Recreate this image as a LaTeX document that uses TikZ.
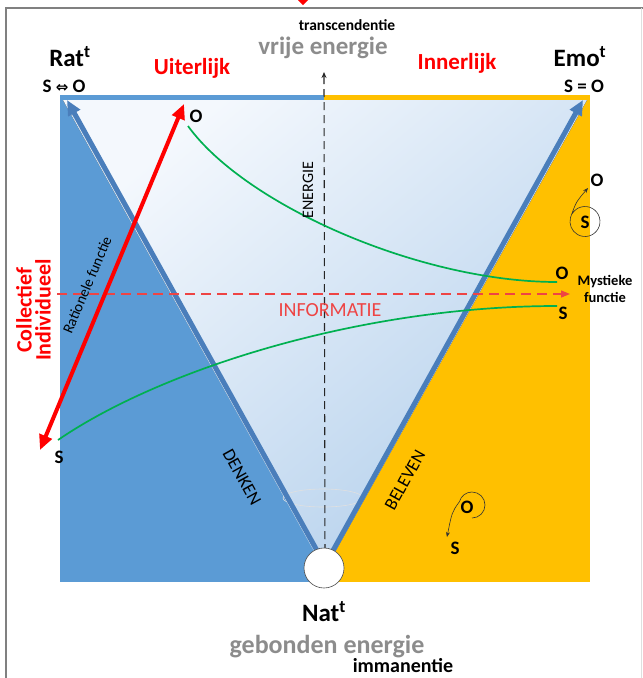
\documentclass[tikz,border=0pt]{standalone}
\usepackage{fontspec}
\setmainfont{Carlito}
\newfontfamily\symfont{DejaVu Sans}
\usetikzlibrary{arrows.meta}
\definecolor{ratblue}{HTML}{5B9BD5}
\definecolor{emoorange}{HTML}{FFC000}
\definecolor{edgeblue}{HTML}{4A7EBB}
\definecolor{lighttop}{HTML}{F4F8FD}
\definecolor{lightbot}{HTML}{B4D0EC}
\definecolor{energygrey}{HTML}{8C8C8C}
\definecolor{curvegreen}{HTML}{00B050}
\definecolor{infored}{HTML}{EE4444}

\begin{document}
\begin{tikzpicture}[x=1pt,y=-1pt,
  txt/.style={inner sep=0pt},
  big/.style={txt,font=\bfseries\fontsize{25}{25}\selectfont},
  grey/.style={txt,font=\bfseries\fontsize{25}{25}\selectfont,text=energygrey},
  redlbl/.style={txt,font=\bfseries\fontsize{23}{23}\selectfont,text=red},
  so/.style={txt,font=\bfseries\fontsize{19}{19}\selectfont},
  small/.style={txt,font=\fontsize{16}{16}\selectfont},
  vedge/.style={line width=5pt,edgeblue,-{Triangle[length=15pt,width=13pt]}},
  green/.style={line width=1.7pt,curvegreen},
  loopline/.style={line width=0.6pt,black!80,-{Stealth[length=5pt,width=4pt]}}]
\useasboundingbox (0,0) rectangle (643,678);

% frame
\draw[gray,line width=1.3pt] (6,678) -- (6,8) -- (643,8);
\draw[gray!25,line width=0.6pt] (641,8) -- (641,678);
\fill[red] (298,0) -- (308,0) -- (303,5) -- cycle;

% fields
\fill[ratblue] (60,95) rectangle (324,582);
\fill[emoorange] (324,95) rectangle (590,582);
\fill[top color=lighttop,bottom color=lightbot,shading angle=40] (63,100) -- (587,100) -- (325,570) -- cycle;
\draw[black!12,line width=0.6pt] (323,498) ellipse (40pt and 9pt);
\draw[white!75!ratblue,line width=0.7pt] (321,563) -- (66,104);

\coordinate (natpt) at (325,565);
\coordinate (ratpt) at (67,100);
\coordinate (emopt) at (583,100);
\coordinate (entop) at (324,72);
\coordinate (infoL) at (57,294);
\coordinate (infoR) at (570,294);

\draw[vedge] (natpt) -- (ratpt);
\draw[vedge] (natpt) -- (emopt);
\draw[black!85,line width=1.1pt,dash pattern=on 8pt off 5pt,-{Stealth[length=6pt,width=5pt]}] (natpt) -- (entop);
\draw[infored,line width=1.2pt,dash pattern=on 10pt off 6pt,-{Triangle[length=9pt,width=7pt]}] (infoL) -- (infoR);

\node[circle,fill=white,draw=black!70,line width=0.6pt,minimum size=40pt,inner sep=0pt] (natc) at (324,568) {};

% rationele functie
\coordinate (ratS) at (40,450);
\coordinate (ratO) at (184,104);
\draw[red,line width=4pt,{Triangle[length=15pt,width=13pt]}-{Triangle[length=15pt,width=13pt]}] (ratS) -- (ratO);

% green curves
\coordinate (gO1) at (188,126);
\coordinate (gO2) at (557,282);
\coordinate (gS1) at (58,440);
\coordinate (gS2) at (557,306);
\draw[green] (gO1) .. controls (245,205) and (420,282) .. (gO2);
\draw[green] (gS1) .. controls (160,370) and (360,306) .. (gS2);

% loops
\draw[loopline] (572,214) arc[start angle=150,end angle=-195,radius=15pt] .. controls (576,202) .. (588,188);
\draw[loopline] (472,518) arc[start angle=-90,end angle=165,radius=13pt] .. controls (452,512) .. (447,537);

% labels
\node[txt,font=\bfseries\fontsize{15.5}{15.5}\selectfont] (trans) at (347,25) {transcendentie};
\node[grey] (vrije) at (323,48) {vrije energie};
\node[big] (rat) at (70,57) {Rat\textsuperscript{t}};
\node[big] (emo) at (580,57) {Emo\textsuperscript{t}};
\node[redlbl] (uit) at (192,68) {Uiterlijk};
\node[redlbl] (inn) at (457,63) {Innerlijk};
\node[so] (soL) at (64,86) {S {\symfont\fontsize{15}{15}\selectfont ⇔} O};
\node[so] (soR) at (584,86) {S = O};

\node[so] (O1) at (196,116) {O};
\node[so] (S1) at (59,457) {S};
\node[so] (O2) at (562,273) {O};
\node[so] (S2) at (563,313) {S};
\node[so] (O3) at (597,180) {O};
\node[so] (S3) at (585,222) {S};
\node[so] (O4) at (467,507) {O};
\node[so] (S4) at (455,548) {S};

\node[txt,font=\bfseries\fontsize{14.5}{16.5}\selectfont,align=center] (myst) at (605,289) {Mystieke\\functie};
\node[txt,font=\fontsize{15}{15}\selectfont,rotate=67] (ratf) at (87,285) {Rationele functie};
\node[redlbl,font=\bfseries\fontsize{22}{22}\selectfont,rotate=90] (coll) at (24,310) {Collectief};
\node[redlbl,font=\bfseries\fontsize{22}{22}\selectfont,rotate=90] (indiv) at (43,310) {Individueel};
\node[small,rotate=90] (energie) at (308,190) {ENERGIE};
\node[txt,font=\fontsize{20}{20}\selectfont,text=infored] (info) at (330,310) {INFORMATIE};
\node[small,font=\fontsize{18}{18}\selectfont,rotate=-61] (denken) at (242,477) {DENKEN};
\node[small,font=\fontsize{18}{18}\selectfont,rotate=61] (beleven) at (405,480) {BELEVEN};

\node[big] (nat) at (324,612) {Nat\textsuperscript{t}};
\node[grey,font=\bfseries\fontsize{26}{26}\selectfont] (gebonden) at (327,647) {gebonden energie};
\node[txt,font=\bfseries\fontsize{20}{20}\selectfont] (imman) at (403,666) {immanentie};
\end{tikzpicture}
\end{document}
